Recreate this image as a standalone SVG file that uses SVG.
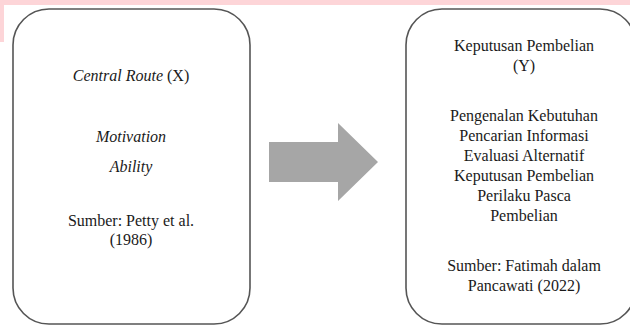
<svg xmlns="http://www.w3.org/2000/svg" width="630" height="326" viewBox="0 0 630 326">
<style>
.box{fill:#fff;stroke:#555;stroke-width:1.6}
.t{font-family:"Liberation Serif","Times New Roman",serif;font-size:16px;fill:#1a1a1a;text-anchor:middle}
.i{font-style:italic}
.arrow{fill:#a6a6a6}
</style>
<rect width="630" height="326" fill="#fff"/>
<rect x="0" y="0" width="630" height="5" fill="#fdd5d8"/>
<rect x="0" y="0" width="4" height="42" fill="#fdd5d8"/>
<g id="node-x">
<rect class="box" x="13" y="9" width="237" height="315" rx="36" ry="36"/>
<text class="t" x="131" y="81"><tspan class="i">Central Route</tspan> (X)</text>
<text class="t i" x="131" y="142">Motivation</text>
<text class="t i" x="131" y="172">Ability</text>
<text class="t" x="131" y="226">Sumber: Petty et al.</text>
<text class="t" x="131" y="245">(1986)</text>
</g>
<g id="node-y">
<rect class="box" x="406" y="9" width="230" height="315" rx="36" ry="36"/>
<text class="t" x="524" y="51">Keputusan Pembelian</text>
<text class="t" x="524" y="71">(Y)</text>
<text class="t" x="524" y="121">Pengenalan Kebutuhan</text>
<text class="t" x="524" y="141">Pencarian Informasi</text>
<text class="t" x="524" y="161">Evaluasi Alternatif</text>
<text class="t" x="524" y="181">Keputusan Pembelian</text>
<text class="t" x="524" y="201">Perilaku Pasca</text>
<text class="t" x="524" y="221">Pembelian</text>
<text class="t" x="524" y="271">Sumber: Fatimah dalam</text>
<text class="t" x="524" y="291">Pancawati (2022)</text>
</g>
<g id="connectors">
<polygon class="arrow" points="269,142 338,142 338,123 378,162 338,201 338,182 269,182"/>
</g>
</svg>
